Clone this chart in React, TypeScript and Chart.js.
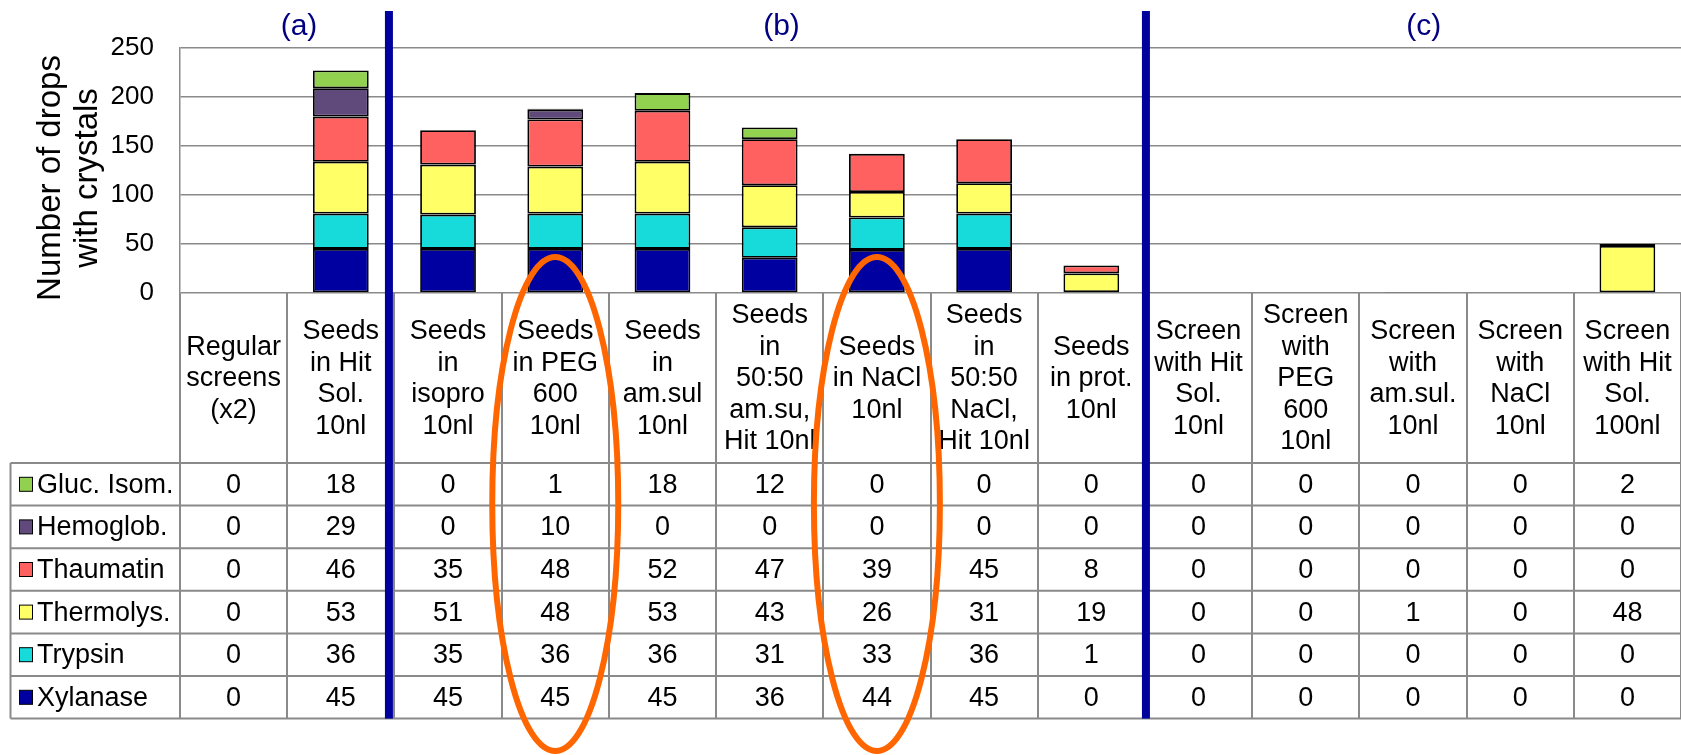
import React, { useEffect, useRef } from 'react';
import { Chart, registerables } from 'chart.js';

Chart.register(...registerables);

// Conditions tested (column headers of the data table, one entry per line)
const categories: string[][] = [
  ['Regular', 'screens', '(x2)'],
  ['Seeds', 'in Hit', 'Sol.', '10nl'],
  ['Seeds', 'in', 'isopro', '10nl'],
  ['Seeds', 'in PEG', '600', '10nl'],
  ['Seeds', 'in', 'am.sul', '10nl'],
  ['Seeds', 'in', '50:50', 'am.su,', 'Hit 10nl'],
  ['Seeds', 'in NaCl', '10nl'],
  ['Seeds', 'in', '50:50', 'NaCl,', 'Hit 10nl'],
  ['Seeds', 'in prot.', '10nl'],
  ['Screen', 'with Hit', 'Sol.', '10nl'],
  ['Screen', 'with', 'PEG', '600', '10nl'],
  ['Screen', 'with', 'am.sul.', '10nl'],
  ['Screen', 'with', 'NaCl', '10nl'],
  ['Screen', 'with Hit', 'Sol.', '100nl'],
];

// Number of drops with crystals per protein (stack order: bottom to top)
const xylanase = [0, 45, 45, 45, 45, 36, 44, 45, 0, 0, 0, 0, 0, 0];
const trypsin = [0, 36, 35, 36, 36, 31, 33, 36, 1, 0, 0, 0, 0, 0];
const thermolysin = [0, 53, 51, 48, 53, 43, 26, 31, 19, 0, 0, 1, 0, 48];
const thaumatin = [0, 46, 35, 48, 52, 47, 39, 45, 8, 0, 0, 0, 0, 0];
const hemoglobin = [0, 29, 0, 10, 0, 0, 0, 0, 0, 0, 0, 0, 0, 0];
const glucoseIsomerase = [0, 18, 0, 1, 18, 12, 0, 0, 0, 0, 0, 0, 0, 2];

const seriesNames = ['Xylanase', 'Trypsin', 'Thermolys.', 'Thaumatin', 'Hemoglob.', 'Gluc. Isom.'];
const seriesValues = [xylanase, trypsin, thermolysin, thaumatin, hemoglobin, glucoseIsomerase];
const seriesColors = ['#0000A0', '#17DADA', '#FFFF66', '#FF6161', '#604A7B', '#92D050'];

const yTickValues = [0, 50, 100, 150, 200, 250];
const yTitleLines = ['Number of drops', 'with crystals'];
const panelLabels = ['(a)', '(b)', '(c)'];

const FONT = '"Liberation Sans", Arial, Helvetica, sans-serif';
const GRID = '#8a8a8a';
const SEPARATOR = '#00009C';

const tablePlugin = {
  id: 'dataTable',
  beforeDraw(chart: any) {
    const ctx = chart.ctx;
    ctx.save();
    ctx.fillStyle = '#ffffff';
    ctx.fillRect(0, 0, chart.width, chart.height);
    ctx.restore();
  },
  afterDraw(chart: any) {
    const ctx: CanvasRenderingContext2D = chart.ctx;
    const { left, right, bottom } = chart.chartArea;
    const n = categories.length;
    const colW = (right - left) / n;
    const edge = (k: number) => left + k * colW;
    const headerBottom = 463;
    const rowH = 42.6;
    const legendLeft = 10.5;
    const rowCount = seriesNames.length;
    const tableBottom = headerBottom + rowCount * rowH;

    ctx.save();

    // grid of the data table
    ctx.strokeStyle = GRID;
    ctx.lineWidth = 2;
    ctx.beginPath();
    for (let k = 0; k <= n; k++) {
      const x = Math.round(edge(k));
      ctx.moveTo(x, bottom);
      ctx.lineTo(x, tableBottom);
    }
    ctx.moveTo(legendLeft, headerBottom);
    ctx.lineTo(legendLeft, tableBottom);
    for (let r = 0; r <= rowCount; r++) {
      const y = headerBottom + r * rowH;
      ctx.moveTo(legendLeft, y);
      ctx.lineTo(right, y);
    }
    ctx.stroke();

    // column headers
    ctx.fillStyle = '#000';
    ctx.font = `27px ${FONT}`;
    ctx.textAlign = 'center';
    ctx.textBaseline = 'middle';
    const headMid = (bottom + headerBottom) / 2;
    const lineH = 31.5;
    categories.forEach((lines, i) => {
      const cx = edge(i + 0.5);
      lines.forEach((t, j) => {
        ctx.fillText(t, cx, headMid + (j - (lines.length - 1) / 2) * lineH + 1);
      });
    });

    // rows: legend key, name and values (top row is the top of the stack)
    for (let r = 0; r < rowCount; r++) {
      const s = rowCount - 1 - r;
      const cy = headerBottom + (r + 0.5) * rowH;
      ctx.fillStyle = seriesColors[s];
      ctx.fillRect(19.5, cy - 7, 13, 14);
      ctx.strokeStyle = '#000';
      ctx.lineWidth = 1;
      ctx.strokeRect(19.5, cy - 7, 13, 14);
      ctx.fillStyle = '#000';
      ctx.textAlign = 'left';
      ctx.fillText(seriesNames[s], 37, cy + 1);
      ctx.textAlign = 'center';
      seriesValues[s].forEach((v, i) => {
        ctx.fillText(String(v), edge(i + 0.5), cy + 1);
      });
    }

    // panel separators
    ctx.fillStyle = SEPARATOR;
    ctx.fillRect(edge(2) - 9.5, 11, 8, tableBottom - 11);
    ctx.fillRect(edge(9) - 3, 11, 8, tableBottom - 11);

    // panel labels
    ctx.fillStyle = '#000080';
    ctx.font = `30px ${FONT}`;
    ctx.textAlign = 'center';
    ctx.textBaseline = 'alphabetic';
    ctx.fillText(panelLabels[0], edge(1.11), 35);
    ctx.fillText(panelLabels[1], edge(5.61), 35);
    ctx.fillText(panelLabels[2], edge(11.6), 35);

    // y-axis title
    ctx.fillStyle = '#000';
    ctx.font = `33px ${FONT}`;
    const titleMid = 178;
    [60, 97].forEach((bx, i) => {
      ctx.save();
      ctx.translate(bx, titleMid);
      ctx.rotate(-Math.PI / 2);
      ctx.fillText(yTitleLines[i], 0, 0);
      ctx.restore();
    });

    // highlight rings around the PEG 600 and NaCl seed columns
    ctx.strokeStyle = '#FF6600';
    ctx.lineWidth = 6;
    [3, 6].forEach((i) => {
      ctx.beginPath();
      ctx.ellipse(edge(i + 0.5), 504, 63, 247, 0, 0, Math.PI * 2);
      ctx.stroke();
    });

    ctx.restore();
  },
};

export default function App() {
  const canvasRef = useRef<HTMLCanvasElement | null>(null);

  useEffect(() => {
    const canvas = canvasRef.current;
    if (!canvas) return;
    const chart = new Chart(canvas, {
      type: 'bar',
      data: {
        labels: categories.map((c) => c.join(' ')),
        datasets: seriesNames.map((name, s) => ({
          label: name,
          data: seriesValues[s],
          backgroundColor: seriesColors[s],
          borderColor: '#000',
          borderWidth: 1.8,
          borderSkipped: false,
          barPercentage: 0.52,
          categoryPercentage: 1,
        })),
      },
      options: {
        responsive: false,
        animation: false,
        devicePixelRatio: 1,
        layout: { padding: { top: 48, right: 0, bottom: 462, left: 0 } },
        plugins: {
          legend: { display: false },
          title: { display: false },
          tooltip: { enabled: false },
        },
        scales: {
          x: { display: false, stacked: true },
          y: {
            stacked: true,
            min: 0,
            max: 250,
            afterFit: (scale: any) => {
              scale.width = 180;
            },
            afterBuildTicks: (scale: any) => {
              scale.ticks = yTickValues.map((v) => ({ value: v }));
            },
            ticks: {
              color: '#000',
              padding: 26,
              font: { family: FONT, size: 26 },
            },
            grid: { color: GRID, lineWidth: 1.5, drawTicks: false },
            border: { display: true, color: GRID, width: 1.5 },
          },
        },
      },
      plugins: [tablePlugin],
    });
    return () => chart.destroy();
  }, []);

  return (
    <div style={{ position: 'fixed', left: 0, top: 0, width: 1681, height: 755, background: '#fff' }}>
      <canvas ref={canvasRef} width={1681} height={755} style={{ display: 'block' }} />
    </div>
  );
}
